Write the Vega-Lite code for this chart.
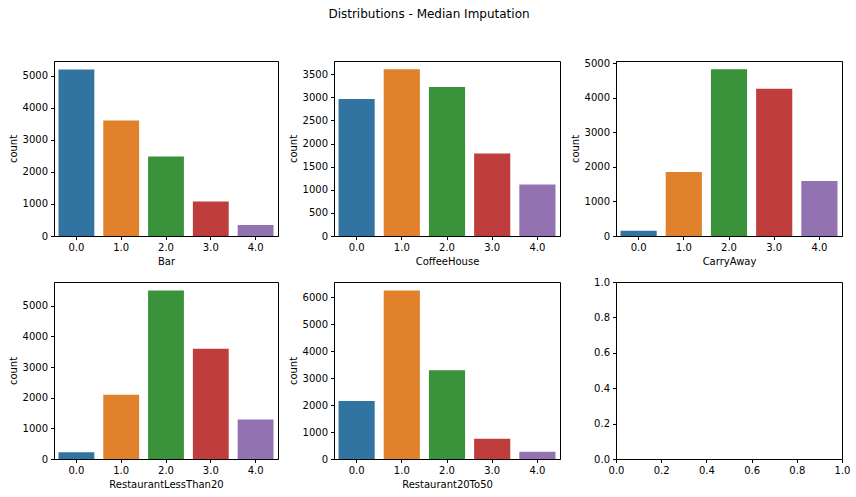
{
  "$schema": "https://vega.github.io/schema/vega-lite/v6.json",
  "padding": {"left": 7, "top": 7, "right": 5, "bottom": 5},
  "background": "white",
  "title": {"text": "Distributions - Median Imputation", "fontSize": 12, "font": "DejaVu Sans", "fontWeight": "normal", "color": "black", "anchor": "middle", "offset": 37},
  "datasets": {
    "bar": [{"cat": "0.0", "count": 5197}, {"cat": "1.0", "count": 3600}, {"cat": "2.0", "count": 2480}, {"cat": "3.0", "count": 1080}, {"cat": "4.0", "count": 340}],
    "coffee": [{"cat": "0.0", "count": 2962}, {"cat": "1.0", "count": 3607}, {"cat": "2.0", "count": 3225}, {"cat": "3.0", "count": 1784}, {"cat": "4.0", "count": 1115}],
    "carry": [{"cat": "0.0", "count": 150}, {"cat": "1.0", "count": 1850}, {"cat": "2.0", "count": 4825}, {"cat": "3.0", "count": 4265}, {"cat": "4.0", "count": 1590}],
    "rlt20": [{"cat": "0.0", "count": 220}, {"cat": "1.0", "count": 2100}, {"cat": "2.0", "count": 5500}, {"cat": "3.0", "count": 3600}, {"cat": "4.0", "count": 1285}],
    "r2050": [{"cat": "0.0", "count": 2150}, {"cat": "1.0", "count": 6260}, {"cat": "2.0", "count": 3300}, {"cat": "3.0", "count": 750}, {"cat": "4.0", "count": 270}],
    "empty": [{"x": 0, "y": 0}]
  },
  "columns": 3,
  "spacing": {"column": 8, "row": 9},
  "concat": [
    {
      "width": 224, "height": 175,
      "data": {"name": "bar"},
      "mark": {"type": "bar"},
      "encoding": {
        "x": {"field": "cat", "type": "ordinal", "title": "Bar", "scale": {"paddingInner": 0.2, "paddingOuter": 0.1}, "axis": {"labelAngle": 0}},
        "y": {"field": "count", "type": "quantitative", "title": "count", "scale": {"domain": [0, 5460], "nice": false}, "axis": {"values": [0, 1000, 2000, 3000, 4000, 5000], "format": "d"}},
        "color": {"field": "cat", "type": "nominal", "scale": {"domain": ["0.0", "1.0", "2.0", "3.0", "4.0"], "range": ["#3274a1", "#e1812c", "#3a923a", "#c03d3e", "#9372b2"]}, "legend": null}
      }
    },
    {
      "width": 226, "height": 175,
      "data": {"name": "coffee"},
      "mark": {"type": "bar"},
      "encoding": {
        "x": {"field": "cat", "type": "ordinal", "title": "CoffeeHouse", "scale": {"paddingInner": 0.2, "paddingOuter": 0.1}, "axis": {"labelAngle": 0}},
        "y": {"field": "count", "type": "quantitative", "title": "count", "scale": {"domain": [0, 3787], "nice": false}, "axis": {"values": [0, 500, 1000, 1500, 2000, 2500, 3000, 3500], "format": "d"}},
        "color": {"field": "cat", "type": "nominal", "scale": {"domain": ["0.0", "1.0", "2.0", "3.0", "4.0"], "range": ["#3274a1", "#e1812c", "#3a923a", "#c03d3e", "#9372b2"]}, "legend": null}
      }
    },
    {
      "width": 226, "height": 175,
      "data": {"name": "carry"},
      "mark": {"type": "bar"},
      "encoding": {
        "x": {"field": "cat", "type": "ordinal", "title": "CarryAway", "scale": {"paddingInner": 0.2, "paddingOuter": 0.1}, "axis": {"labelAngle": 0}},
        "y": {"field": "count", "type": "quantitative", "title": "count", "scale": {"domain": [0, 5066], "nice": false}, "axis": {"values": [0, 1000, 2000, 3000, 4000, 5000], "format": "d"}},
        "color": {"field": "cat", "type": "nominal", "scale": {"domain": ["0.0", "1.0", "2.0", "3.0", "4.0"], "range": ["#3274a1", "#e1812c", "#3a923a", "#c03d3e", "#9372b2"]}, "legend": null}
      }
    },
    {
      "width": 224, "height": 177,
      "data": {"name": "rlt20"},
      "mark": {"type": "bar"},
      "encoding": {
        "x": {"field": "cat", "type": "ordinal", "title": "RestaurantLessThan20", "scale": {"paddingInner": 0.2, "paddingOuter": 0.1}, "axis": {"labelAngle": 0}},
        "y": {"field": "count", "type": "quantitative", "title": "count", "scale": {"domain": [0, 5775], "nice": false}, "axis": {"values": [0, 1000, 2000, 3000, 4000, 5000], "format": "d"}},
        "color": {"field": "cat", "type": "nominal", "scale": {"domain": ["0.0", "1.0", "2.0", "3.0", "4.0"], "range": ["#3274a1", "#e1812c", "#3a923a", "#c03d3e", "#9372b2"]}, "legend": null}
      }
    },
    {
      "width": 226, "height": 177,
      "data": {"name": "r2050"},
      "mark": {"type": "bar"},
      "encoding": {
        "x": {"field": "cat", "type": "ordinal", "title": "Restaurant20To50", "scale": {"paddingInner": 0.2, "paddingOuter": 0.1}, "axis": {"labelAngle": 0}},
        "y": {"field": "count", "type": "quantitative", "title": "count", "scale": {"domain": [0, 6573], "nice": false}, "axis": {"values": [0, 1000, 2000, 3000, 4000, 5000, 6000], "format": "d"}},
        "color": {"field": "cat", "type": "nominal", "scale": {"domain": ["0.0", "1.0", "2.0", "3.0", "4.0"], "range": ["#3274a1", "#e1812c", "#3a923a", "#c03d3e", "#9372b2"]}, "legend": null}
      }
    },
    {
      "width": 226, "height": 177,
      "data": {"name": "empty"},
      "mark": {"type": "point", "opacity": 0},
      "encoding": {
        "x": {"field": "x", "type": "quantitative", "title": null, "scale": {"domain": [0, 1], "nice": false}, "axis": {"values": [0, 0.2, 0.4, 0.6, 0.8, 1], "format": ".1f", "labelFlush": false}},
        "y": {"field": "y", "type": "quantitative", "title": null, "scale": {"domain": [0, 1], "nice": false}, "axis": {"values": [0, 0.2, 0.4, 0.6, 0.8, 1], "format": ".1f", "labelFlush": false}}
      }
    }
  ],
  "config": {
    "view": {"stroke": "black", "strokeWidth": 1},
    "axis": {
      "grid": false,
      "domainColor": "black",
      "tickColor": "black",
      "tickSize": 3.5,
      "labelPadding": 3,
      "labelColor": "black",
      "titleColor": "black",
      "labelFont": "DejaVu Sans",
      "titleFont": "DejaVu Sans",
      "labelFontSize": 10,
      "titleFontSize": 10,
      "titleFontWeight": "normal",
      "titlePadding": 4,
      "labelOverlap": false
    }
  }
}
